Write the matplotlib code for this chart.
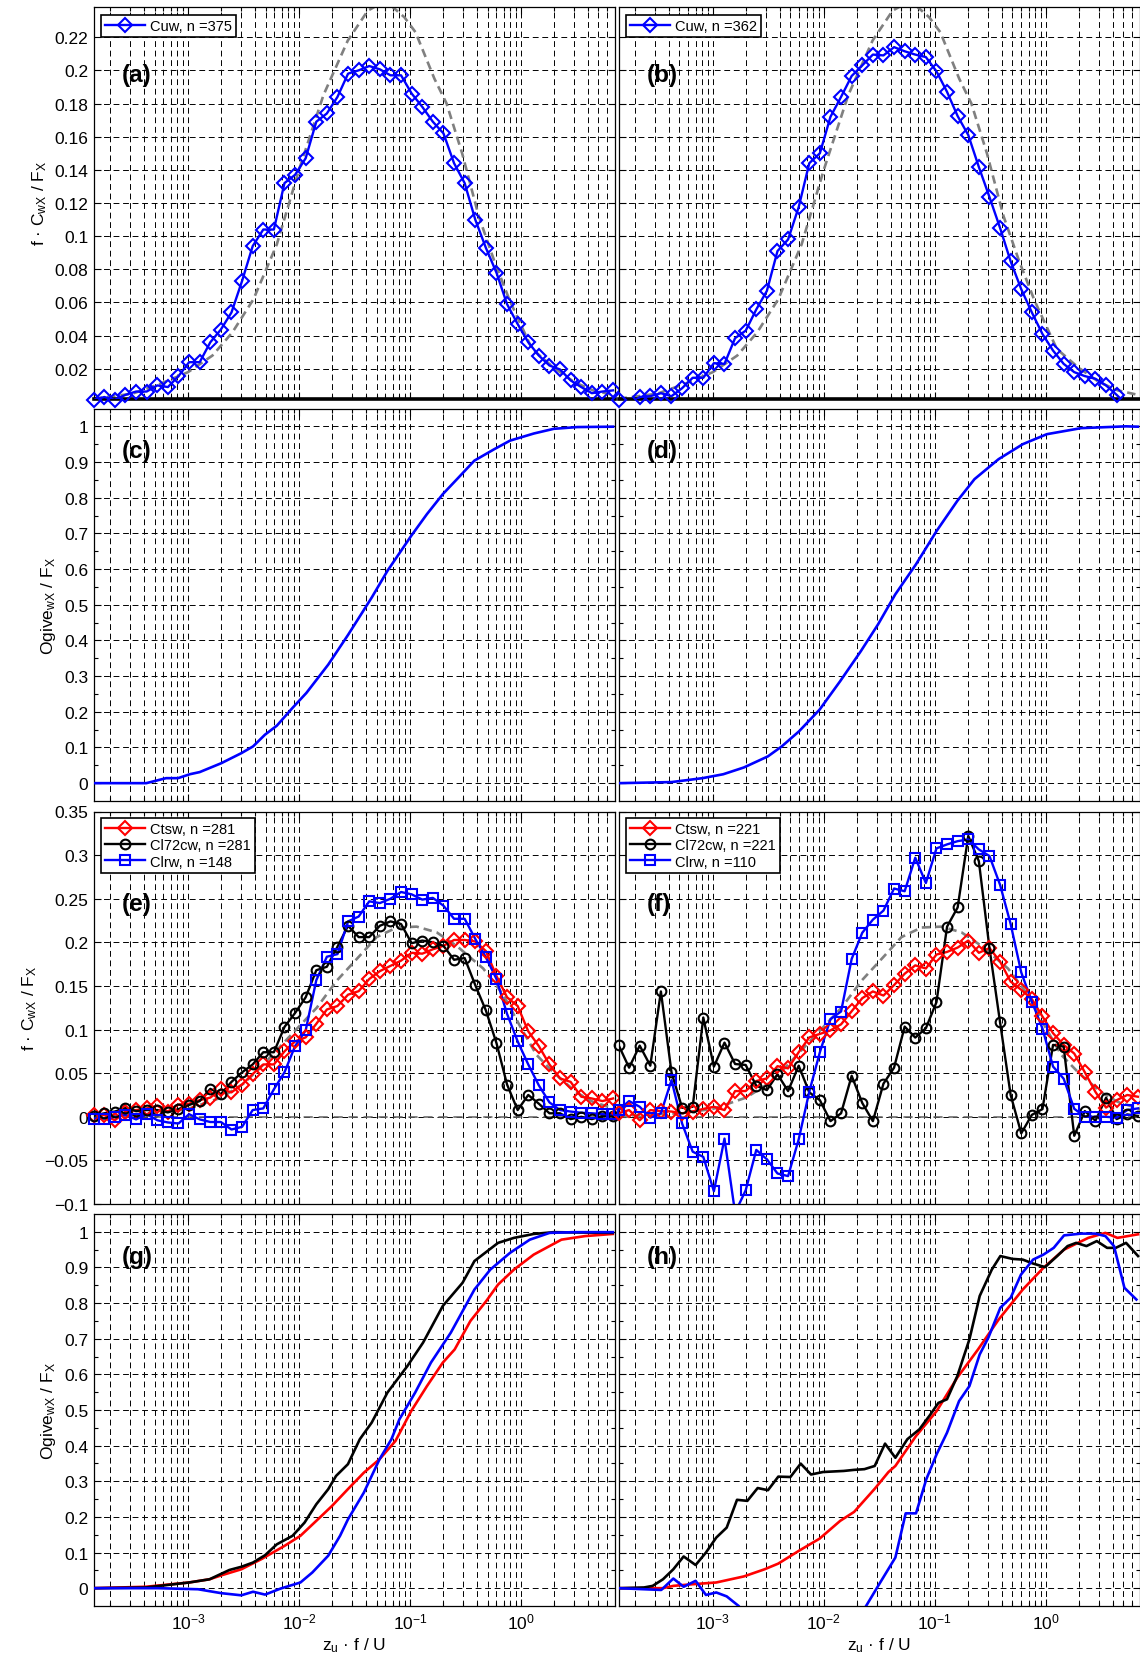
import numpy as np
import matplotlib
matplotlib.use("Agg")
import matplotlib.pyplot as plt
from matplotlib.ticker import LogLocator, FixedLocator, FuncFormatter, NullFormatter
from matplotlib.lines import Line2D

plt.rcParams.update({
    "font.family": ["Liberation Sans", "DejaVu Sans"],
    "mathtext.default": "regular",
    "font.size": 12.5,
})

# ---------------- data ----------------
# spectral bins (log10 of z_u f / U)
bin_log = np.linspace(-3.85, 0.83, 50)

# panel (a)
a_cuw = [0.0013, 0.003, 0.0013, 0.0043, 0.0063, 0.0063, 0.010, 0.009, 0.0156, 0.024,
         0.024, 0.036, 0.0437, 0.054, 0.073, 0.094, 0.104, 0.104, 0.132, 0.137,
         0.147, 0.169, 0.174, 0.184, 0.198, 0.200, 0.2026, 0.2006, 0.197, 0.197,
         0.186, 0.178, 0.169, 0.162, 0.144, 0.132, 0.110, 0.093, 0.078, 0.059,
         0.047, 0.036, 0.028, 0.022, 0.0196, 0.013, 0.009, 0.0053, 0.0063, 0.007]
# panel (b)
b_cuw = [0.0013, -0.002, 0.003, 0.0035, 0.0053, 0.0035, 0.0083, 0.0146, 0.0146, 0.0234,
         0.023, 0.0385, 0.043, 0.0558, 0.067, 0.091, 0.098, 0.1175, 0.144, 0.150,
         0.172, 0.184, 0.1966, 0.203, 0.2095, 0.209, 0.214, 0.2115, 0.2095, 0.208,
         0.1994, 0.187, 0.1724, 0.161, 0.1417, 0.1236, 0.105, 0.0848, 0.068, 0.054,
         0.041, 0.031, 0.023, 0.018, 0.0156, 0.014, 0.010, 0.0043, -0.002, -0.004]
# reference (model) cospectrum, row 1
model1_log = [-3.85, -3.5, -3.25, -3.0, -2.78, -2.6, -2.41, -2.2, -2.0, -1.78, -1.56, -1.38,
              -1.22, -1.05, -0.95, -0.78, -0.67, -0.53, -0.38, -0.24, -0.1, 0.1, 0.29, 0.48,
              0.65, 0.85]
model1_val = [0.002, 0.005, 0.011, 0.018, 0.028, 0.042, 0.062, 0.095, 0.14, 0.185, 0.218, 0.236,
              0.242, 0.232, 0.223, 0.195, 0.18, 0.15, 0.112, 0.085, 0.061, 0.032, 0.021, 0.012,
              0.007, 0.004]

# panel (e)
e_ctsw = [0.0019, 0.002, -0.004, 0.006, 0.0077, 0.0096, 0.0127, 0.006, 0.014, 0.015,
          0.019, 0.022, 0.0315, 0.028, 0.037, 0.049, 0.060, 0.060, 0.075, 0.0865,
          0.091, 0.1065, 0.123, 0.127, 0.140, 0.144, 0.158, 0.167, 0.173, 0.179,
          0.188, 0.187, 0.192, 0.196, 0.2027, 0.2027, 0.201, 0.190, 0.1615, 0.137,
          0.127, 0.098, 0.081, 0.060, 0.044, 0.040, 0.023, 0.021, 0.018, 0.021]
e_cl72cw = [0.001, 0.004, 0.006, 0.010, 0.0065, 0.0077, 0.0077, 0.005, 0.0088, 0.0135,
            0.018, 0.032, 0.026, 0.040, 0.051, 0.060, 0.074, 0.074, 0.103, 0.119,
            0.137, 0.168, 0.172, 0.195, 0.219, 0.206, 0.206, 0.219, 0.224, 0.221,
            0.199, 0.202, 0.200, 0.196, 0.180, 0.182, 0.151, 0.122, 0.0846, 0.037,
            0.0077, 0.025, 0.015, 0.004, 0.004, -0.0027, 0.0, -0.0027, 0.001, 0.001]
e_clrw = [-0.002, -0.002, 0.0, 0.002, -0.003, 0.003, -0.004, -0.0065, -0.0077, 0.003,
          -0.003, -0.006, -0.006, -0.0146, -0.0115, 0.0077, 0.0096, 0.0315, 0.051, 0.081,
          0.099, 0.1565, 0.1835, 0.1865, 0.224, 0.2296, 0.247, 0.245, 0.250, 0.2577,
          0.255, 0.249, 0.251, 0.242, 0.227, 0.227, 0.204, 0.183, 0.158, 0.118,
          0.0865, 0.060, 0.036, 0.0165, 0.0077, 0.006, 0.0046, 0.004, 0.003, 0.003]
# panel (f)
f_ctsw = [0.004, 0.0077, -0.004, 0.0077, 0.0065, 0.006, 0.004, 0.006, 0.009, 0.0115,
          0.0077, 0.0295, 0.0295, 0.041, 0.044, 0.058, 0.0555, 0.074, 0.091, 0.095,
          0.099, 0.106, 0.121, 0.136, 0.1437, 0.139, 0.151, 0.164, 0.1736, 0.170,
          0.186, 0.189, 0.194, 0.202, 0.188, 0.1935, 0.178, 0.155, 0.1456, 0.135,
          0.115, 0.0958, 0.0825, 0.0725, 0.051, 0.0285, 0.0105, 0.019, 0.025, 0.023]
f_cl72cw = [0.0824, 0.0563, 0.0816, 0.0586, 0.1437, 0.051, 0.0103, 0.0115, 0.1138, 0.0575,
            0.085, 0.0605, 0.0594, 0.0356, 0.0306, 0.0487, 0.0295, 0.0586, 0.028, 0.019,
            -0.005, 0.004, 0.047, 0.0158, -0.005, 0.038, 0.0563, 0.1034, 0.0908, 0.1015,
            0.1314, 0.218, 0.240, 0.322, 0.293, 0.1935, 0.1084, 0.025, -0.019, 0.0022,
            0.0088, 0.0824, 0.0805, -0.0218, 0.0065, -0.0045, 0.0218, -0.0027, 0.0027, 0.001]
f_clrw = [0.0077, 0.018, 0.0115, -0.001, 0.004, 0.042, -0.0077, -0.040, -0.046, -0.0854,
          -0.025, -0.11, -0.0843, -0.038, -0.0487, -0.065, -0.068, -0.026, 0.0287, 0.074,
          0.112, 0.1207, 0.181, 0.211, 0.226, 0.2364, 0.2617, 0.2586, 0.297, 0.268,
          0.3077, 0.3123, 0.316, 0.318, 0.3065, 0.299, 0.266, 0.221, 0.1655, 0.132,
          0.1012, 0.0576, 0.0437, 0.0092, 0.0, 0.0, 0.0, -0.001, 0.0077, 0.0096]
# reference (model) cospectrum, row 3
model3_log = [-3.85, -3.3, -3.0, -2.7, -2.5, -2.35, -2.1, -1.84, -1.66, -1.45, -1.3, -1.12,
              -0.94, -0.76, -0.58, -0.34, -0.16, 0.0, 0.14, 0.3, 0.5, 0.65, 0.85]
model3_val = [0.001, 0.004, 0.009, 0.022, 0.038, 0.056, 0.09, 0.125, 0.156, 0.185, 0.206, 0.217,
              0.218, 0.2115, 0.196, 0.17, 0.14, 0.102, 0.071, 0.05, 0.028, 0.017, 0.009]

# panel (c) ogive
c_log = [-3.85, -3.376, -3.198, -3.09, -2.984, -2.895, -2.70, -2.52, -2.414, -2.306, -2.2, -2.058,
         -1.933, -1.737, -1.559, -1.345, -1.203, -0.989, -0.847, -0.704, -0.561, -0.419, -0.24,
         -0.098, 0.117, 0.295, 0.508, 0.83]
c_ogive = [0, 0, 0.014, 0.014, 0.025, 0.031, 0.056, 0.084, 0.103, 0.136, 0.161, 0.211,
           0.253, 0.332, 0.415, 0.52, 0.595, 0.693, 0.754, 0.81, 0.857, 0.904, 0.936,
           0.96, 0.98, 0.993, 0.998, 0.999]
# panel (d) ogive
d_log = [-3.847, -3.372, -3.093, -2.906, -2.72, -2.504, -2.379, -2.224, -2.038, -1.852, -1.666,
         -1.511, -1.356, -1.17, -0.983, -0.797, -0.642, -0.425, -0.207, 0.01, 0.319, 0.724, 0.83]
d_ogive = [0, 0.003, 0.014, 0.025, 0.044, 0.075, 0.103, 0.145, 0.206, 0.286, 0.37,
           0.445, 0.529, 0.613, 0.707, 0.791, 0.852, 0.908, 0.95, 0.978, 0.995, 1.0, 0.999]

# panel (g) ogives
g_cl72_log = [-3.85, -3.38, -2.99, -2.806, -2.628, -2.52, -2.414, -2.306, -2.2, -2.058, -1.95,
              -1.844, -1.737, -1.666, -1.559, -1.452, -1.345, -1.203, -1.024, -0.882, -0.704,
              -0.526, -0.419, -0.206, -0.063, 0.115, 0.294, 0.828]
g_cl72 = [0, 0.002, 0.016, 0.025, 0.051, 0.06, 0.072, 0.0925, 0.123, 0.147, 0.184,
          0.2355, 0.2776, 0.315, 0.348, 0.418, 0.4645, 0.549, 0.623, 0.689, 0.792,
          0.857, 0.918, 0.969, 0.983, 0.994, 0.999, 0.997]
g_cts_log = [-3.85, -3.38, -2.99, -2.806, -2.7, -2.52, -2.342, -2.129, -1.987, -1.844, -1.702,
             -1.559, -1.416, -1.274, -1.131, -0.989, -0.847, -0.704, -0.597, -0.455, -0.312,
             -0.206, -0.063, 0.115, 0.365, 0.578, 0.828]
g_cts = [0, 0.004, 0.016, 0.025, 0.036, 0.053, 0.081, 0.119, 0.147, 0.189, 0.231,
         0.278, 0.324, 0.362, 0.413, 0.497, 0.567, 0.633, 0.67, 0.75, 0.806,
         0.852, 0.894, 0.936, 0.978, 0.988, 0.994]
g_clr_log = [-3.85, -3.27, -2.91, -2.7, -2.52, -2.414, -2.306, -2.165, -1.987, -1.88, -1.737,
             -1.63, -1.559, -1.416, -1.274, -1.167, -1.095, -0.953, -0.811, -0.632, -0.419,
             -0.276, -0.098, 0.08, 0.258, 0.472, 0.828]
g_clr = [0, 0, -0.003, -0.014, -0.02, -0.01, -0.018, -0.001, 0.016, 0.044, 0.091,
         0.147, 0.193, 0.268, 0.362, 0.418, 0.474, 0.549, 0.633, 0.717, 0.838,
         0.894, 0.941, 0.978, 0.997, 0.999, 0.999]

# panel (h) ogives
h_cl72_log = [-3.847, -3.62, -3.542, -3.449, -3.356, -3.263, -3.155, -3.062, -2.969, -2.875,
              -2.782, -2.689, -2.596, -2.503, -2.41, -2.301, -2.208, -2.115, -2.007, -1.82,
              -1.727, -1.634, -1.541, -1.448, -1.355, -1.247, -1.138, -1.045, -0.967, -0.89,
              -0.797, -0.688, -0.595, -0.486, -0.409, -0.3, -0.207, -0.114, -0.006, 0.103,
              0.197, 0.274, 0.367, 0.46, 0.553, 0.631, 0.724, 0.832]
h_cl72 = [0, 0.002, 0.0065, 0.025, 0.053, 0.089, 0.065, 0.10, 0.142, 0.170,
          0.248, 0.245, 0.281, 0.275, 0.313, 0.312, 0.3495, 0.319, 0.326, 0.329,
          0.332, 0.334, 0.343, 0.4056, 0.366, 0.418, 0.446, 0.485, 0.52, 0.53,
          0.595, 0.698, 0.82, 0.894, 0.932, 0.924, 0.922, 0.911, 0.901, 0.932,
          0.96, 0.969, 0.96, 0.974, 0.955, 0.955, 0.969, 0.932]
h_cts_log = [-3.847, -3.449, -3.356, -3.186, -2.969, -2.72, -2.534, -2.41, -2.224, -2.038,
             -1.852, -1.727, -1.541, -1.417, -1.355, -1.169, -0.983, -0.797, -0.61, -0.424,
             -0.207, -0.021, 0.165, 0.383, 0.538, 0.646, 0.832]
h_cts = [0, 0, 0.0065, 0.011, 0.016, 0.033, 0.053, 0.069, 0.105, 0.139,
         0.189, 0.214, 0.279, 0.326, 0.343, 0.427, 0.497, 0.591, 0.67, 0.754,
         0.838, 0.899, 0.95, 0.983, 0.997, 0.983, 0.993]
h_clr_log = [-3.847, -3.465, -3.356, -3.263, -3.155, -3.062, -2.969, -2.875, -2.767, -2.6,
             -1.75, -1.619, -1.51, -1.355, -1.262, -1.169, -1.076, -0.983, -0.89, -0.781,
             -0.688, -0.595, -0.517, -0.409, -0.316, -0.223, -0.114, -0.021, 0.072, 0.165,
             0.321, 0.445, 0.538, 0.615, 0.709, 0.817]
h_clr = [0, -0.005, 0.027, 0.004, 0.0206, -0.019, -0.012, -0.023, -0.05, -0.12,
         -0.12, -0.05, 0.0065, 0.086, 0.21, 0.21, 0.306, 0.376, 0.436, 0.525,
         0.567, 0.656, 0.703, 0.787, 0.815, 0.88, 0.922, 0.936, 0.955, 0.99,
         0.995, 0.995, 0.988, 0.96, 0.843, 0.81]

legend_top = ["Cuw, n =375", "Cuw, n =362"]
legend_e = ["Ctsw, n =281", "Cl72cw, n =281", "Clrw, n =148"]
legend_f = ["Ctsw, n =221", "Cl72cw, n =221", "Clrw, n =110"]
panel_letters = ["(a)", "(b)", "(c)", "(d)", "(e)", "(f)", "(g)", "(h)"]

# ---------------- figure ----------------
W, H = 1140, 1665
fig = plt.figure(figsize=(W / 100, H / 100), dpi=100)

col_left = [93.7, 618.5]
col_w = 521.0
rows = [(7.5, 392.5), (409.5, 392.5), (812.5, 392.5), (1215.0, 392.0)]
ylims = [(0.0018, 0.2385), (-0.05, 1.05), (-0.1, 0.35), (-0.05, 1.05)]
yticks = [np.arange(0.02, 0.2201, 0.02), np.arange(0, 1.001, 0.1),
          np.arange(-0.1, 0.3501, 0.05), np.arange(0, 1.001, 0.1)]
letter_y = [0.828, 0.8925, 0.765, 0.892]

BLUE, RED, BLACK, GRAY = "#0000ff", "#ff0000", "#000000", "#808080"
GRID_LS = (0, (6, 3.8))


def fmt(v, p):
    s = "%g" % round(v, 4)
    return s.replace("-", "\u2212")


def setup(ax, r, c):
    ax.set_xscale("log")
    ax.set_xlim(10 ** -3.85, 10 ** 0.845)
    ax.set_ylim(*ylims[r])
    ax.xaxis.set_major_locator(LogLocator(base=10, numticks=20))
    ax.xaxis.set_minor_locator(LogLocator(base=10, subs=np.arange(2, 10), numticks=20))
    ax.xaxis.set_minor_formatter(NullFormatter())
    ax.yaxis.set_major_locator(FixedLocator(yticks[r]))
    ax.yaxis.set_major_formatter(FuncFormatter(fmt))
    if r in (1, 3):
        ax.yaxis.set_minor_locator(FixedLocator(np.arange(0.05, 1.0, 0.1)))
    ax.grid(True, which="major", axis="both", color="k", lw=0.7, linestyle=GRID_LS)
    ax.grid(True, which="minor", axis="x", color="k", lw=0.7, linestyle=GRID_LS)
    ax.tick_params(which="both", direction="in", top=True, right=True, width=0.8,
                   labelsize=12.5, pad=4)
    ax.tick_params(which="major", length=5)
    ax.tick_params(which="minor", length=3)
    ax.tick_params(labelbottom=(r == 3), labelleft=(c == 0))
    for s in ax.spines.values():
        s.set_linewidth(0.9)
    if r == 0:
        ax.spines["bottom"].set_linewidth(2.6)
    ax.text(0.054, letter_y[r], panel_letters[2 * r + c], transform=ax.transAxes,
            fontsize=17.5, fontweight="bold", ha="left", va="center", zorder=6)
    if c == 0:
        if r in (0, 2):
            ax.set_ylabel("f \u00b7 C$_{wX}$ / F$_X$", fontsize=12.5)
        else:
            ax.set_ylabel("Ogive$_{wX}$ / F$_X$", fontsize=12.5)
    if r == 3:
        ax.set_xlabel("z$_u$ \u00b7 f / U", fontsize=12.5, labelpad=3)


def spec(ax, y, color, marker, ms):
    x = 10 ** bin_log
    y = np.asarray(y, dtype=float)
    ax.plot(x, y, "-", color=color, lw=1.7, zorder=3)
    lo, hi = ax.get_ylim()
    m = (y >= lo - 0.0006) & (y <= hi)
    ax.plot(x[m], y[m], linestyle="none", marker=marker, ms=ms, mfc="none", mec=color,
            mew=1.5, clip_on=False, zorder=4)
    return Line2D([], [], color=color, lw=1.7, marker=marker, ms=ms, mfc="none", mec=color,
                  mew=1.5)


def model(ax, lg, val):
    ax.plot(10 ** np.asarray(lg), val, color=GRAY, lw=1.9, dashes=(3.2, 1.9), zorder=2.5)


def add_legend(ax, handles, labels, top):
    leg = ax.legend(handles, labels, loc="upper left", bbox_to_anchor=(0.014, top),
                    borderaxespad=0, fontsize=10.5, handlelength=2.7, handletextpad=0.35,
                    borderpad=0.3, labelspacing=0.15, fancybox=False, framealpha=1,
                    edgecolor="k", numpoints=1)
    leg.get_frame().set_linewidth(1.2)
    leg.set_zorder(7)


axes = {}
for r, (top, h) in enumerate(rows):
    for c in range(2):
        ax = fig.add_axes([col_left[c] / W, 1 - (top + h) / H, col_w / W, h / H])
        setup(ax, r, c)
        axes[(r, c)] = ax

# row 1: cospectra Cuw
for c, data, lab in [(0, a_cuw, legend_top[0]), (1, b_cuw, legend_top[1])]:
    ax = axes[(0, c)]
    model(ax, model1_log, model1_val)
    hnd = spec(ax, data, BLUE, "D", 7)
    add_legend(ax, [hnd], [lab], 0.979)

# row 2: ogives Cuw
axes[(1, 0)].plot(10 ** np.asarray(c_log), c_ogive, color=BLUE, lw=1.9, zorder=3)
axes[(1, 1)].plot(10 ** np.asarray(d_log), d_ogive, color=BLUE, lw=1.9, zorder=3)

# row 3: cospectra of three sites
for c, (ts, l72, lr, labs) in enumerate([(e_ctsw, e_cl72cw, e_clrw, legend_e),
                                         (f_ctsw, f_cl72cw, f_clrw, legend_f)]):
    ax = axes[(2, c)]
    ax.axhline(0, color="#606060", lw=1.1, linestyle=GRID_LS, zorder=2)
    model(ax, model3_log, model3_val)
    h1 = spec(ax, ts, RED, "D", 7)
    h2 = spec(ax, l72, BLACK, "o", 7)
    h3 = spec(ax, lr, BLUE, "s", 6.5)
    add_legend(ax, [h1, h2, h3], labs, 0.984)

# row 4: ogives of three sites
for c, curves in enumerate([[(g_cts_log, g_cts, RED), (g_cl72_log, g_cl72, BLACK), (g_clr_log, g_clr, BLUE)],
                            [(h_cts_log, h_cts, RED), (h_cl72_log, h_cl72, BLACK), (h_clr_log, h_clr, BLUE)]]):
    ax = axes[(3, c)]
    for lg, val, col in curves:
        ax.plot(10 ** np.asarray(lg), val, color=col, lw=1.9, zorder=3)

fig.savefig("out.png", dpi=100)
